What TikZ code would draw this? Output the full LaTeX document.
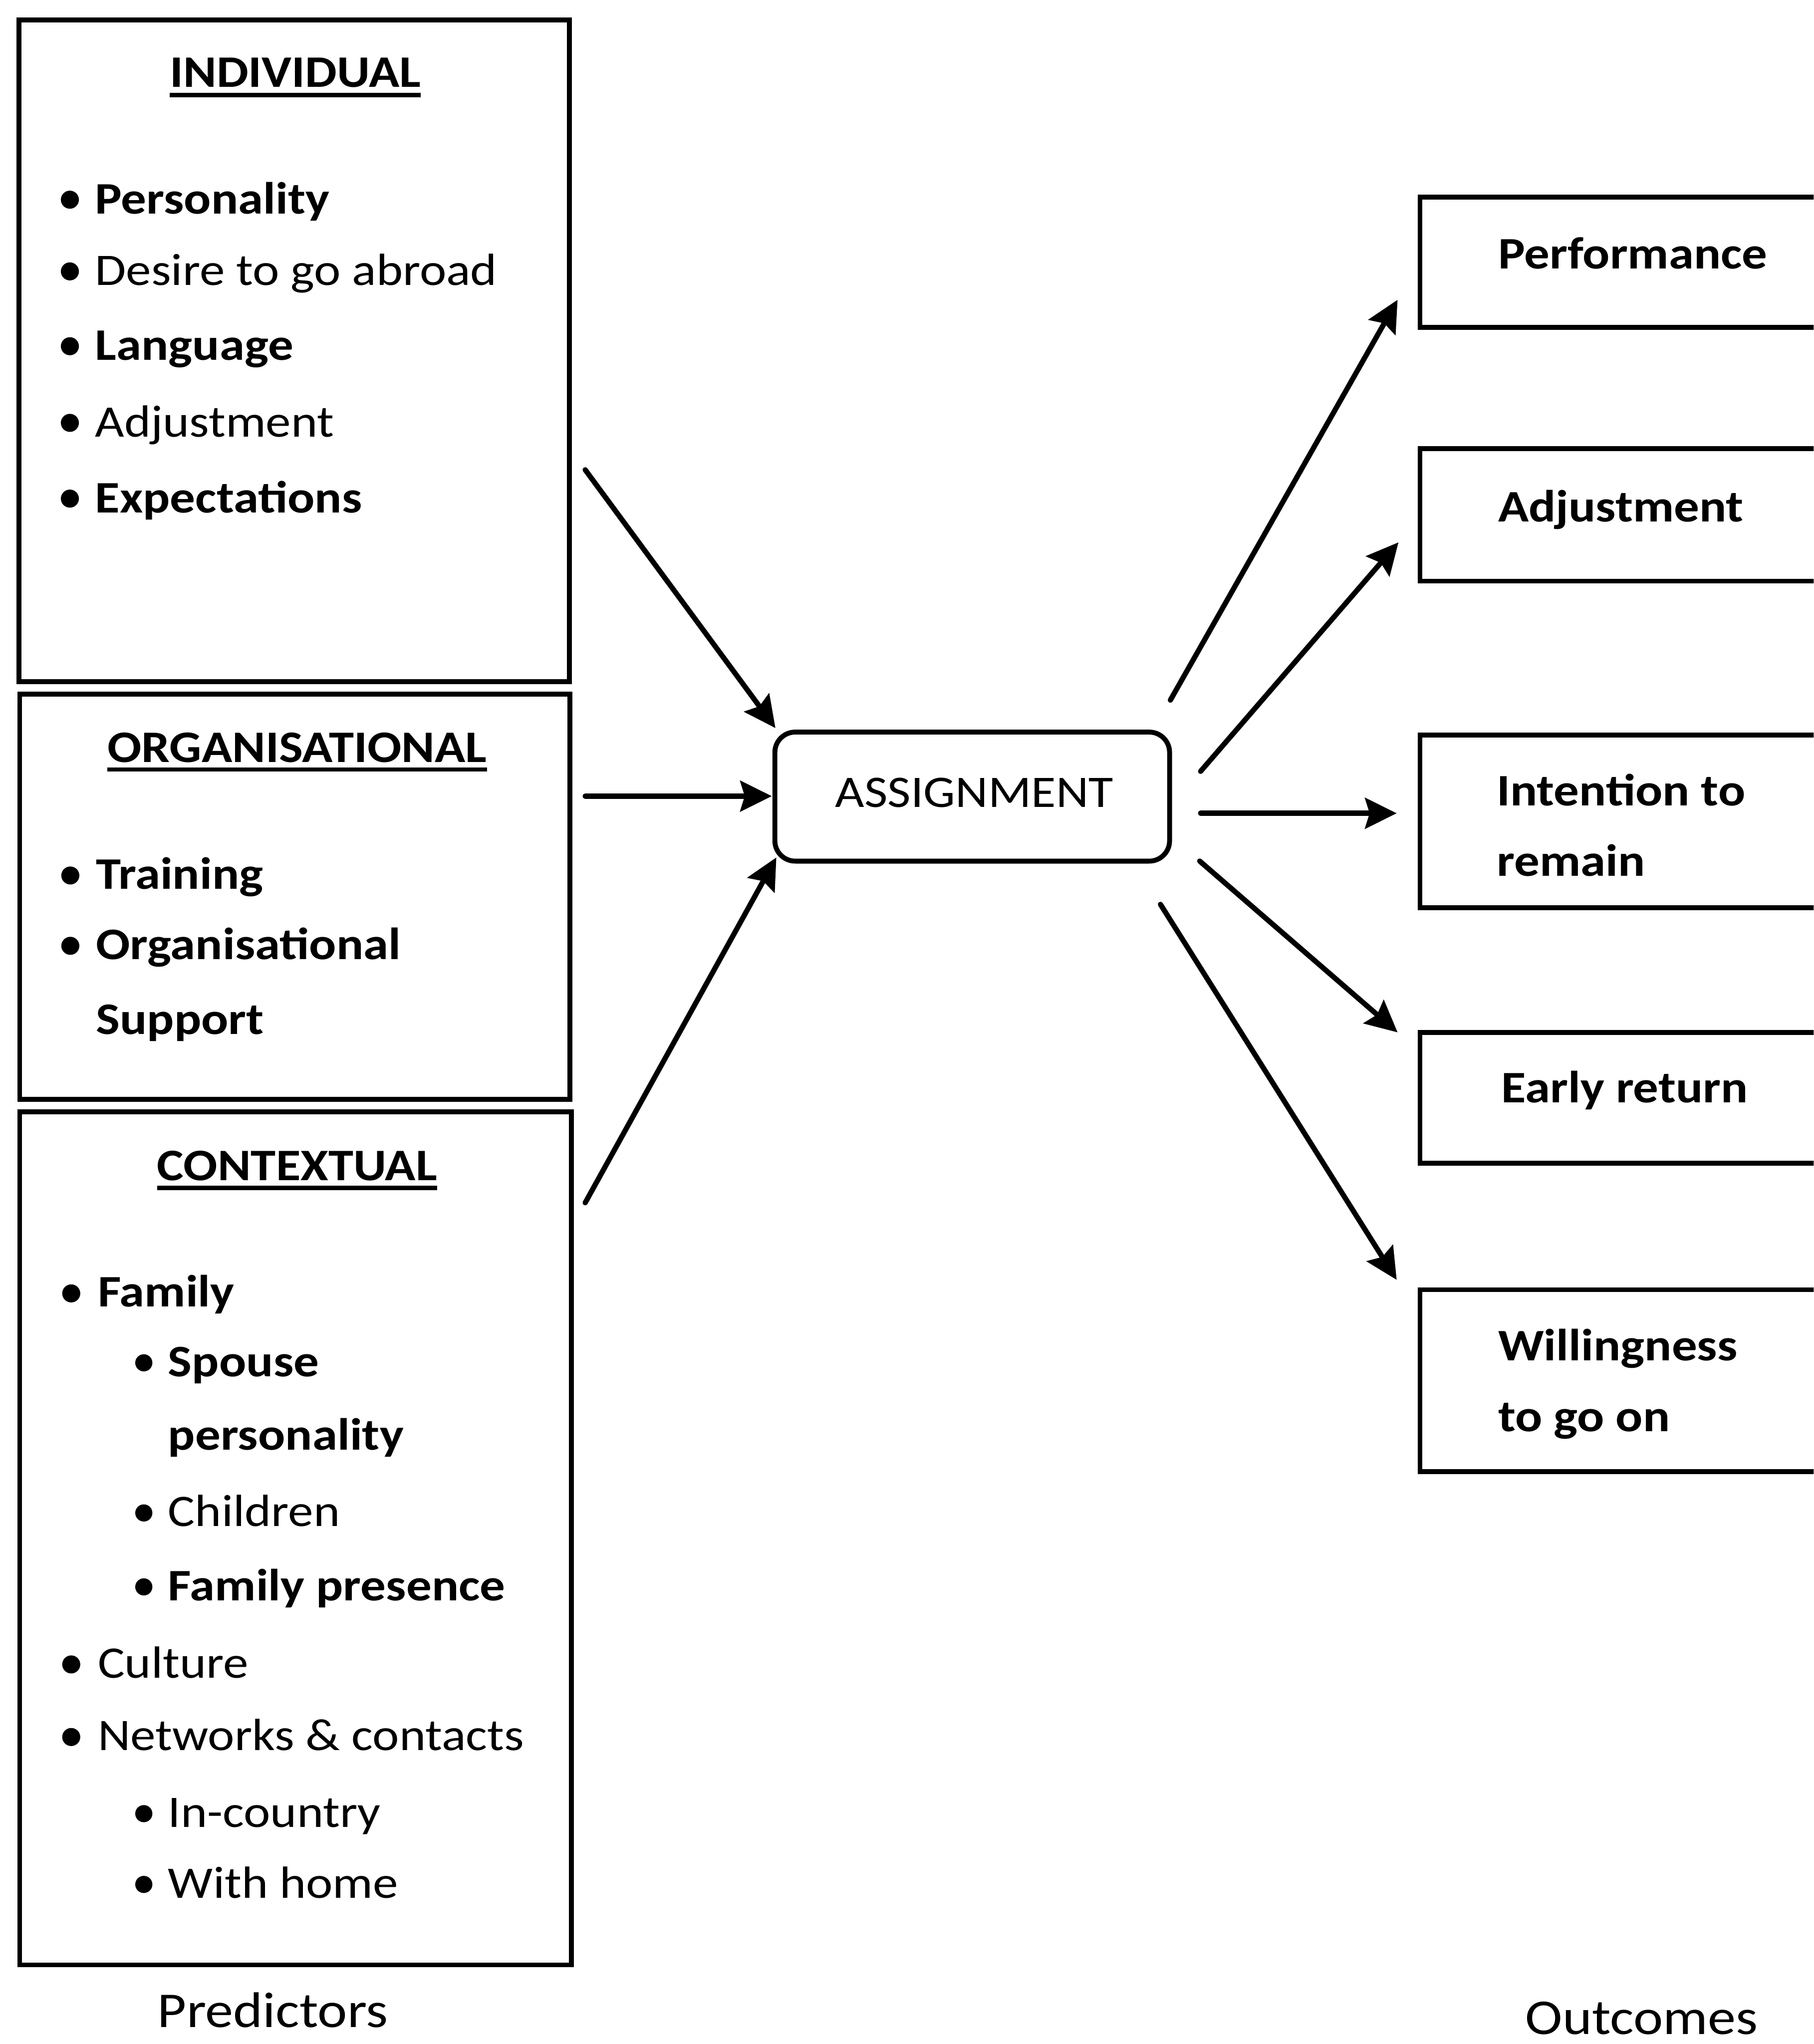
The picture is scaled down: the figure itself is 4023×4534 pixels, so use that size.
\documentclass[tikz,border=0pt]{standalone}
\usepackage{fontspec}
\setmainfont{Carlito}[FakeStretch=1.12]
\usetikzlibrary{arrows.meta,calc}
\begin{document}
\begin{tikzpicture}[x=0.01cm, y=-0.01cm,
  every node/.style={inner sep=0pt, outer sep=0pt, font=\fontsize{28.45}{34}\selectfont},
  boxline/.style={draw, line width=3.1pt, rectangle},
  hubbox/.style={draw, line width=3.1pt, rectangle, rounded corners=0.45cm},
  item/.style={anchor=base west},
  bolditem/.style={anchor=base west, font=\fontsize{28.45}{34}\selectfont\bfseries},
  heading/.style={anchor=base, font=\fontsize{28.45}{34}\selectfont\bfseries},
  caption/.style={anchor=base},
  sidecaption/.style={anchor=base, font=\fontsize{31.6}{38}\selectfont},
  dot/.style={fill, circle, minimum size=0.4cm},
  uline/.style={line width=2.6pt},
  arr/.style={line width=3.3pt, line cap=round,
    -{Stealth[length=0.7cm, width=0.68cm, inset=0.1cm]}},
]
% page area
\fill[white] (0,0) rectangle (4023,4534);
\clip (0,0) rectangle (4023,4534);

% ---------- predictor boxes ----------
\node[boxline, minimum width=12.21cm, minimum height=14.67cm] (ind) at (652.5,778.5) {};
\node[boxline, minimum width=12.20cm, minimum height=8.98cm] (org) at (654,1989) {};
\node[boxline, minimum width=12.23cm, minimum height=18.91cm] (ctx) at (655.5,3412.5) {};

% INDIVIDUAL
\node[heading] (ind-title) at (655,193) {INDIVIDUAL};
\draw[uline] ([yshift=-0.18cm]ind-title.base west) -- ([yshift=-0.18cm]ind-title.base east);
\node[dot] (ind-b1) at (155,443) {};
\node[bolditem] (ind-t1) at (211,474) {Personality};
\node[dot] (ind-b2) at (155,602) {};
\node[item] (ind-t2) at (211,633) {Desire to go abroad};
\node[dot] (ind-b3) at (155,768) {};
\node[bolditem] (ind-t3) at (211,799) {Language};
\node[dot] (ind-b4) at (155,938) {};
\node[item] (ind-t4) at (211,969) {Adjustment};
\node[dot] (ind-b5) at (155,1106) {};
\node[bolditem] (ind-t5) at (211,1137) {Expectations};

% ORGANISATIONAL
\node[heading] (org-title) at (659,1691) {ORGANISATIONAL};
\draw[uline] ([yshift=-0.16cm]org-title.base west) -- ([yshift=-0.16cm]org-title.base east);
\node[dot] (org-b1) at (156,1942) {};
\node[bolditem] (org-t1) at (213,1972) {Training};
\node[dot] (org-b2) at (156,2098) {};
\node[bolditem] (org-t2) at (213,2128) {Organisational};
\node[bolditem] (org-t3) at (213,2294) {Support};

% CONTEXTUAL
\node[heading] (ctx-title) at (659,2618) {CONTEXTUAL};
\draw[uline] ([yshift=-0.17cm]ctx-title.base west) -- ([yshift=-0.17cm]ctx-title.base east);
\node[dot] (ctx-b1) at (158,2869) {};
\node[bolditem] (ctx-t1) at (217,2899) {Family};
\node[dot, minimum size=0.38cm] (ctx-b2) at (319,3023) {};
\node[bolditem] (ctx-t2) at (373,3053) {Spouse};
\node[bolditem] (ctx-t3) at (373,3216) {personality};
\node[dot, minimum size=0.38cm] (ctx-b4) at (319,3356) {};
\node[item] (ctx-t4) at (373,3386) {Children};
\node[dot, minimum size=0.38cm] (ctx-b5) at (319,3520) {};
\node[bolditem] (ctx-t5) at (373,3550) {Family presence};
\node[dot] (ctx-b6) at (158,3692) {};
\node[item] (ctx-t6) at (217,3722) {Culture};
\node[dot] (ctx-b7) at (158,3853) {};
\node[item] (ctx-t7) at (217,3883) {Networks \& contacts};
\node[dot, minimum size=0.38cm] (ctx-b8) at (319,4023) {};
\node[item] (ctx-t8) at (373,4053) {In-country};
\node[dot, minimum size=0.38cm] (ctx-b9) at (319,4180) {};
\node[item] (ctx-t9) at (373,4210) {With home};

\node[sidecaption] (pred) at (605,4497) {Predictors};

% ---------- central box ----------
\node[hubbox, minimum width=8.75cm, minimum height=2.86cm] (asg) at (2156.5,1767) {};
\node[caption] (asg-t) at (2161,1791) {ASSIGNMENT};

% ---------- outcome boxes (running off the right edge) ----------
\node[boxline, minimum width=9.5cm, minimum height=2.89cm] (perf) at (3625,581.5) {};
\node[bolditem] (perf-t) at (3323,596) {Performance};
\node[boxline, minimum width=9.5cm, minimum height=2.94cm] (adj) at (3625,1142) {};
\node[bolditem] (adj-t) at (3323,1157) {Adjustment};
\node[boxline, minimum width=9.5cm, minimum height=3.82cm] (int) at (3625,1822) {};
\node[bolditem] (int-t1) at (3320,1787) {Intention to};
\node[bolditem] (int-t2) at (3320,1943) {remain};
\node[boxline, minimum width=9.5cm, minimum height=2.90cm] (early) at (3625,2435) {};
\node[bolditem] (early-t) at (3330,2446) {Early return};
\node[boxline, minimum width=9.5cm, minimum height=4.03cm] (will) at (3625,3062.5) {};
\node[bolditem] (will-t1) at (3323,3018) {Willingness};
\node[bolditem] (will-t2) at (3323,3175) {to go on};

\node[sidecaption] (outc) at (3641,4512) {Outcomes};

% ---------- connector end points ----------
\coordinate (in1) at (1298,1042);  \coordinate (in1e) at (1720,1615);
\coordinate (in2) at (1298,1766);  \coordinate (in2e) at (1712,1766);
\coordinate (in3) at (1298,2668);  \coordinate (in3e) at (1722,1902);
\coordinate (out1) at (2596,1553); \coordinate (out1e) at (3100,665);
\coordinate (out2) at (2663,1711); \coordinate (out2e) at (3102,1203);
\coordinate (out3) at (2663,1804); \coordinate (out3e) at (3098,1804);
\coordinate (out4) at (2661,1910); \coordinate (out4e) at (3100,2290);
\coordinate (out5) at (2574,2006); \coordinate (out5e) at (3098,2839);

\draw[arr] (in1) -- (in1e);
\draw[arr] (in2) -- (in2e);
\draw[arr] (in3) -- (in3e);
\draw[arr] (out1) -- (out1e);
\draw[arr] (out2) -- (out2e);
\draw[arr] (out3) -- (out3e);
\draw[arr] (out4) -- (out4e);
\draw[arr] (out5) -- (out5e);
\end{tikzpicture}
\end{document}
